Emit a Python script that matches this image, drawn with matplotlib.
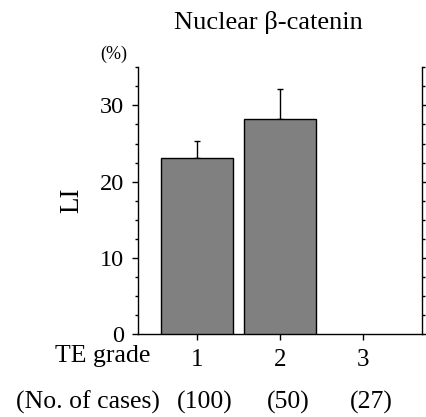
import numpy as np
import matplotlib.pyplot as plt
from matplotlib.ticker import MultipleLocator
from matplotlib.transforms import blended_transform_factory

plt.rcParams['font.family'] = ['Liberation Serif', 'DejaVu Serif']

# TE grade groups, labelling index (%) with upper SD, and case counts
grades = [1, 2, 3]
li_mean = [23.1, 28.2, np.nan]
li_sd = [2.2, 3.9, np.nan]
n_cases = ["(100)", "(50)", "(27)"]

fig = plt.figure(figsize=(4.26, 4.17), dpi=100)
ax = fig.add_axes([0.3232, 0.199, 0.6674, 0.6396])

x = np.array(grades, dtype=float)
ax.bar(x, li_mean, width=0.86, color="#808080", edgecolor="black", linewidth=1.0, zorder=3)
# only the upper half of the SD bar is shown
ax.errorbar(x, li_mean, yerr=[np.zeros(len(x)), li_sd], fmt="none", ecolor="black",
            elinewidth=1.0, capsize=2, capthick=1.0, zorder=2)

ax.set_xlim(0.286, 3.714)
ax.set_ylim(0, 35)
ax.yaxis.set_major_locator(MultipleLocator(10))
ax.yaxis.set_minor_locator(MultipleLocator(2.5))
ax.set_xticks(x)
ax.set_xticklabels([str(g) for g in grades])

ax.spines["top"].set_visible(False)
for s in ["left", "right", "bottom"]:
    ax.spines[s].set_linewidth(1.0)

ax.tick_params(axis="y", which="both", direction="out", right=True, labelright=False,
               labelsize=17.5, pad=6)
ax.tick_params(axis="y", which="major", length=4, width=1)
ax.tick_params(axis="y", which="minor", length=2.5, width=1)
ax.tick_params(axis="x", direction="out", length=4, width=1, labelsize=18, pad=7)

ax.set_ylabel("LI", fontsize=19.5, labelpad=11)
fig.text(114 / 426, 1 - 54 / 417, "(%)", fontsize=13, ha="center", va="center")
fig.text(268 / 426, 1 - 22 / 417, "Nuclear \u03b2-catenin", fontsize=19, ha="center", va="center")

fig.text(103 / 426, 1 - 356 / 417, "TE grade", fontsize=18.5, ha="center", va="center")
fig.text(88 / 426, 1 - 402 / 417, "(No. of cases)", fontsize=18.5, ha="center", va="center")
trans = blended_transform_factory(ax.transData, fig.transFigure)
for g, n in zip(grades, n_cases):
    ax.text(g + 0.1, 1 - 402 / 417, n, fontsize=18.5, ha="center", va="center",
            transform=trans)

fig.savefig("out.png", dpi=100)
